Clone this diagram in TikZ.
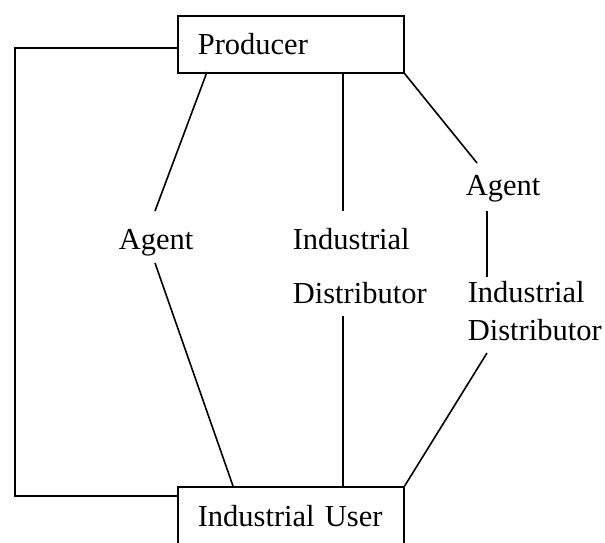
\documentclass[tikz,border=0pt]{standalone}
\usepackage{fontspec}
\setmainfont{Liberation Serif}
\begin{document}
\begin{tikzpicture}[x=1pt,y=-1pt,line width=1.6pt,
  box/.style={draw,minimum width=226pt,minimum height=57pt,text width=186pt,
    align=left,inner xsep=20pt,inner ysep=0pt,font=\fontsize{30.5}{36}\selectfont},
  lbl/.style={anchor=base west,inner sep=0pt,font=\fontsize{30.5}{36}\selectfont}]
  \useasboundingbox (0,0) rectangle (605,542);

  \node[box,anchor=north west] (prod) at (177,15) {Producer};
  \node[box,anchor=north west,minimum height=58pt] (user) at (177,486) {Industrial User};

  \node[lbl] (agL) at (118,249) {Agent};
  \node[lbl] (indM) at (292,249) {Industrial};
  \node[lbl] (disM) at (292,303) {Distributor};
  \node[lbl] (agR) at (465,195) {Agent};
  \node[lbl] (indR) at (467,302) {Industrial};
  \node[lbl] (disR) at (467,340) {Distributor};

  \coordinate (pL) at (207,72);
  \coordinate (pM) at (343,72);
  \coordinate (uL) at (233,486);
  \coordinate (uM) at (343,486);
  \coordinate (agLn) at (155,211);
  \coordinate (agLs) at (155,263);
  \coordinate (disMn) at (343,211);
  \coordinate (disMs) at (343,316);
  \coordinate (agRn) at (477,163);
  \coordinate (agRs) at (487,211);
  \coordinate (indRn) at (487,277);
  \coordinate (disRs) at (487,353);

  \draw ([yshift=-3.5pt]prod.west) -| (15,496) -- (user.west |- 0,496);
  \draw (pL) -- (agLn);
  \draw (agLs) -- (uL);
  \draw (pM) -- (disMn);
  \draw (disMs) -- (uM);
  \draw (prod.south east) -- (agRn);
  \draw (agRs) -- (indRn);
  \draw (disRs) -- (user.north east);
\end{tikzpicture}
\end{document}
